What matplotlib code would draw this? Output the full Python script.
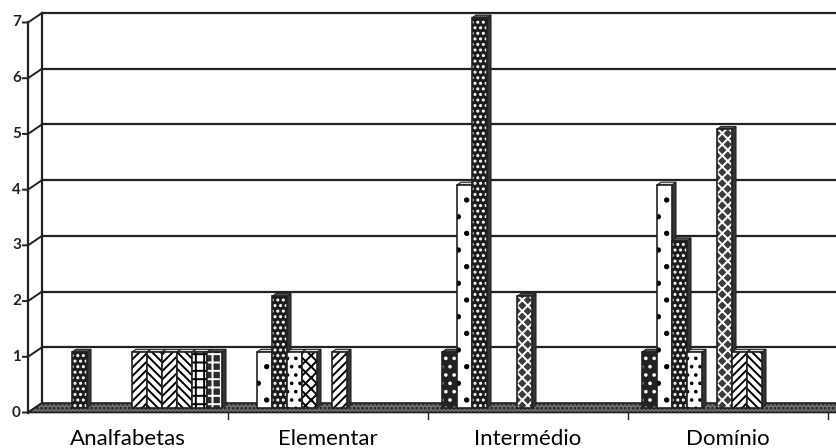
import matplotlib
matplotlib.use("Agg")
import matplotlib.pyplot as plt
from matplotlib.patches import Polygon, Rectangle

categories = ["Analfabetas", "Elementar", "Intermédio", "Domínio"]
y_ticks = [0, 1, 2, 3, 4, 5, 6, 7]

# one list per series (12 series, read left to right inside each group)
s0 = [0, 0, 1, 1]
s1 = [0, 1, 4, 4]
s2 = [1, 2, 7, 3]
s3 = [0, 1, 0, 1]
s4 = [0, 1, 0, 0]
s5 = [0, 0, 2, 5]
s6 = [1, 1, 0, 1]
s7 = [1, 0, 0, 1]
s8 = [1, 0, 0, 0]
s9 = [1, 0, 0, 0]
s10 = [1, 0, 0, 0]
s11 = [1, 0, 0, 0]
series = [s0, s1, s2, s3, s4, s5, s6, s7, s8, s9, s10, s11]

# face colour, hatch, hatch colour for each series
styles = [
    ("#222222", "..", "white"),
    ("white", ".", "black"),
    ("#1c1c1c", "...", "white"),
    ("white", "..", "black"),
    ("white", "xxx", "black"),
    ("#3c3c3c", "xxx", "white"),
    ("white", "////", "black"),
    ("white", "\\\\\\\\", "black"),
    ("white", "////", "black"),
    ("white", "\\\\\\\\", "black"),
    ("white", "++", "black"),
    ("#2b2b2b", "++", "white"),
]

DARK = "#222222"
W, H = 836, 448
PX_X = 200.0          # pixels per category on the back wall
PX_Y = 390.0 / 7      # pixels per unit on the back wall


def fx(px):
    return px / PX_X


def fy(px):
    return px / PX_Y


plt.rcParams["hatch.linewidth"] = 1.4
fig = plt.figure(figsize=(W / 100, H / 100), dpi=100)
ax = fig.add_axes([42 / W, (H - 403) / H, 800 / W, 390 / H])
ax.set_xlim(-0.5, 3.5)
ax.set_ylim(0, 7)
ax.axis("off")

# front plane offset
FDX, FDY = fx(14), fy(9.5)

# back wall gridlines and left edge
for v in y_ticks[1:]:
    ax.plot([-0.5, 3.5], [v, v], color=DARK, lw=1.6, clip_on=False, zorder=1)
ax.plot([-0.5, -0.5], [0, 7], color=DARK, lw=1.6, clip_on=False, zorder=1)

# front axis, ticks, connectors, labels
ax.plot([-0.5 - FDX] * 2, [-FDY, 7 - FDY], color=DARK, lw=1.6, clip_on=False, zorder=1)
for v in y_ticks:
    ax.plot([-0.5 - FDX - fx(5), -0.5 - FDX, -0.5], [v - FDY, v - FDY, v],
            color=DARK, lw=1.4, clip_on=False, zorder=1)
    ax.text(-0.5 - FDX - fx(7), v - FDY, str(v), ha="right", va="center",
            fontsize=11, fontweight="bold", family="Lato", color=DARK)

# floor
floor = Polygon([(-0.5, 0), (3.6, 0), (3.6 - FDX, -FDY), (-0.5 - FDX, -FDY)],
                closed=True, facecolor="#6e6e6e", edgecolor=DARK, lw=1.2,
                hatch="....", clip_on=False, zorder=2)
ax.add_patch(floor)
for k in range(1, len(categories) + 1):
    xk = k - 0.5 - FDX
    ax.plot([xk, xk], [-FDY, -FDY - fy(6)], color=DARK, lw=1.0, clip_on=False, zorder=2)

# bars, sitting half way into the depth
MDY = fy(4.75)
BW = fx(15)
SDX, SDY = fx(4), fy(2.7)
for k in range(len(categories)):
    for j, vals in enumerate(series):
        v = vals[k]
        if v == 0:
            continue
        fc, hatch, hc = styles[j]
        x0 = k - 0.5 + j * BW
        y0 = -MDY
        z = 3 + 0.01 * j + k
        side = Polygon([(x0 + BW, y0), (x0 + BW, y0 + v), (x0 + BW + SDX, y0 + v + SDY),
                        (x0 + BW + SDX, y0 + SDY)], closed=True,
                       facecolor="#333333", edgecolor=DARK, lw=0.8, clip_on=False, zorder=z)
        top_c = "#dddddd" if fc == "white" else "#555555"
        top = Polygon([(x0, y0 + v), (x0 + BW, y0 + v), (x0 + BW + SDX, y0 + v + SDY),
                       (x0 + SDX, y0 + v + SDY)], closed=True,
                      facecolor=top_c, edgecolor=DARK, lw=0.8, clip_on=False, zorder=z)
        front = Rectangle((x0, y0), BW, v, facecolor=fc, edgecolor="none",
                          clip_on=False, zorder=z + 0.001)
        pattern = Rectangle((x0, y0), BW, v, facecolor="none", edgecolor=hc, lw=0,
                            hatch=hatch, clip_on=False, zorder=z + 0.002)
        border = Rectangle((x0, y0), BW, v, facecolor="none", edgecolor=DARK, lw=1.2,
                           clip_on=False, zorder=z + 0.003)
        for p in (side, top, front, pattern, border):
            ax.add_patch(p)

# category labels on the front plane
for k, name in enumerate(categories):
    ax.text(k - FDX, -fy(36), name, ha="center", va="center",
            fontsize=16, family="Lato", color="black")

fig.savefig("out.png", dpi=100)
